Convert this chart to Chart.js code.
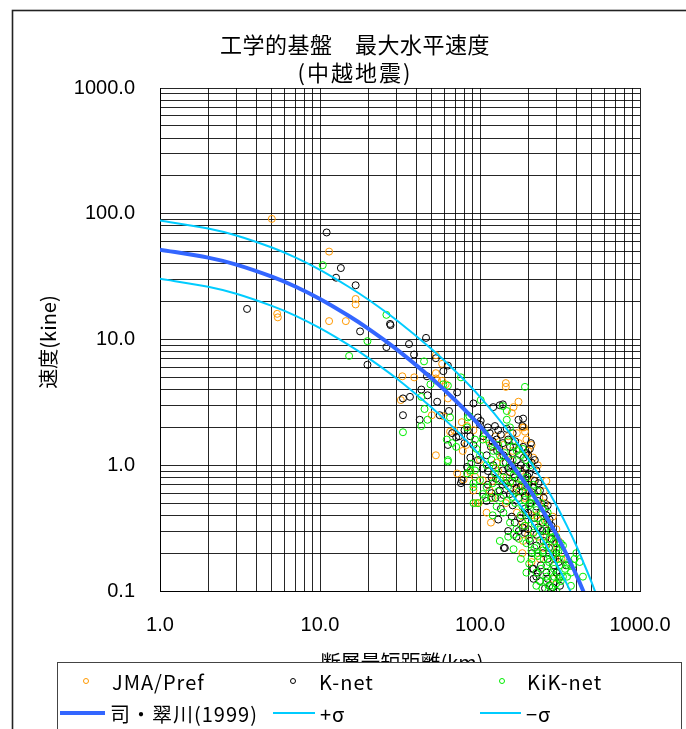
<!DOCTYPE html>
<html>
<head>
<meta charset="utf-8">
<script src="https://cdn.jsdelivr.net/npm/chart.js@4.4.1/dist/chart.umd.min.js"></script>
<style>
  html, body { margin: 0; padding: 0; background: #fff; }
  #wrap { width: 686px; height: 729px; }
</style>
</head>
<body>
<div id="wrap"><canvas id="pgvChart" width="686" height="729"></canvas></div>
<script>
// distance (km) / peak velocity (kine) per network
const jmaDist = [
  5.0, 11.4, 16.7, 16.7, 5.4, 5.45, 11.4, 14.5,
  53, 58, 53, 53, 54, 58, 32.7, 38.8, 61, 63, 32, 50, 59, 77,
  145, 145, 174, 162, 158, 188, 53, 72, 79,
  65, 69, 83, 91, 184, 191, 82, 78, 136, 154, 127,
  87, 93, 104, 91, 98, 115, 147, 169, 216, 191,
  117, 184, 237, 285, 300, 184, 295, 237, 186, 285, 323, 94,
  140, 160, 175, 200, 215, 120, 130, 165, 190, 210, 255, 145, 170, 230, 260, 280, 200, 110, 250, 260,
  125, 150, 170, 195, 210, 110, 100, 120, 155, 180, 205, 235, 190, 225, 270, 250, 210, 310, 120, 230
];
const jmaVel = [
  91, 50, 21, 19, 16, 15, 14, 14,
  7.5, 6.4, 5.4, 4.9, 4.7, 4.7, 5.1, 5.0, 4.4, 3.4, 3.3, 2.5, 2.45, 2.2,
  4.5, 4.2, 3.2, 2.9, 2.6, 2.0, 1.2, 0.86, 0.77,
  1.85, 1.9, 2.05, 1.9, 2.0, 1.85, 1.45, 1.3, 1.15, 1.1, 1.05,
  0.88, 0.81, 0.76, 0.63, 0.5, 0.63, 0.8, 0.71, 0.76, 0.67,
  0.35, 0.35, 0.36, 0.39, 0.31, 0.2, 0.18, 0.18, 0.25, 0.125, 0.18, 0.5,
  1.45, 1.3, 1.5, 1.3, 1.15, 1.4, 0.9, 0.6, 0.55, 0.4, 0.5, 0.5, 0.42, 0.27, 0.27, 0.22, 0.28, 0.42, 0.62, 0.75,
  1.7, 1.7, 1.8, 1.6, 1.45, 1.6, 1.1, 0.75, 0.65, 0.9, 0.6, 0.55, 0.33, 0.4, 0.34, 0.22, 0.17, 0.25, 0.55, 1.0
];

const knetDist = [
  11.0, 13.5, 12.6, 16.7, 3.5, 27.4, 27.6, 17.8, 26, 19.8,
  36, 46, 38.7, 53, 63, 59, 46.6, 43, 47, 72, 64, 36.5, 33, 33, 42, 56, 54,
  91, 121, 133, 139, 174, 186, 208, 76,
  63, 67, 71, 74, 84,
  97, 101, 100, 112, 124, 130, 147, 184,
  80, 87, 80, 91, 117, 127, 139, 154, 166, 186,
  87, 97, 83, 104, 77,
  121, 139, 154, 174, 194, 203, 225,
  133, 154, 169, 191, 211, 237,
  130, 158, 178, 194, 219, 247, 272,
  169, 191, 225, 260, 285, 143, 211, 247,
  216, 237, 265, 285, 316, 345, 216,
  316, 110, 141, 213, 225, 272,
  128, 140, 150, 160, 170, 180, 200, 210,
  150, 165, 185, 200, 220, 145, 175, 205, 230, 255,
  190, 160, 240, 260, 280, 230, 200, 175, 150, 250,
  270, 300, 225, 290, 260, 240, 110, 118, 112, 125, 135,
  105, 115, 135, 150, 160, 175, 195, 205, 220, 120,
  132, 145, 158, 188, 112, 126, 138, 160, 180, 198,
  215, 232, 250, 118, 140, 185, 200, 225, 265, 245,
  280, 300, 205, 185, 165, 310, 265, 230, 255, 300
];
const knetVel = [
  71, 37, 31, 27, 17.5, 13.3, 13, 11.6, 8.7, 6.3,
  9.2, 10.3, 7.6, 7.1, 6.2, 5.6, 5.1, 4.0, 3.6, 3.8, 2.7, 3.5, 3.4, 2.5, 2.3, 2.5, 3.2,
  3.1, 2.9, 3.0, 3.05, 2.3, 2.35, 1.5, 0.72,
  1.45, 1.8, 1.67, 1.7, 1.9,
  2.4, 2.25, 2.1, 2.0, 2.05, 1.9, 1.95, 2.05,
  1.9, 1.7, 1.5, 1.45, 1.4, 1.6, 1.5, 1.4, 1.55, 1.4,
  1.15, 1.1, 0.97, 0.94, 0.76,
  1.0, 0.91, 0.88, 0.94, 0.97, 0.86, 0.91,
  0.63, 0.59, 0.65, 0.57, 0.61, 0.63,
  0.37, 0.39, 0.38, 0.4, 0.38, 0.35, 0.37,
  0.27, 0.29, 0.28, 0.3, 0.29, 0.22, 0.2, 0.2,
  0.15, 0.12, 0.125, 0.107, 0.13, 0.16, 0.125,
  0.11, 0.52, 0.22, 0.15, 0.13, 0.11,
  1.3, 1.2, 1.15, 1.25, 1.1, 1.0, 1.2, 1.05,
  0.95, 0.8, 0.85, 0.7, 0.75, 0.72, 0.55, 0.5, 0.52, 0.45,
  0.45, 0.48, 0.42, 0.4, 0.33, 0.32, 0.31, 0.3, 0.3, 0.25,
  0.22, 0.2, 0.23, 0.16, 0.14, 0.16, 1.2, 0.8, 0.7, 0.55, 0.45,
  1.7, 1.8, 1.75, 1.6, 1.8, 1.35, 1.25, 1.35, 1.1, 1.55,
  1.35, 1.05, 1.0, 1.15, 0.9, 0.78, 0.7, 0.72, 0.68, 0.82,
  0.66, 0.72, 0.55, 0.6, 0.58, 0.62, 0.42, 0.47, 0.48, 0.3,
  0.26, 0.24, 0.25, 0.32, 0.35, 0.17, 0.18, 0.14, 0.105, 0.14
];

const kiknetDist = [
  10.4, 26, 19.8, 15.2, 44.7, 76, 49, 63, 59, 43, 45, 47, 65, 43, 33, 84,
  101, 139, 191, 147, 63, 63, 87,
  62, 67, 71, 86, 83, 147, 154,
  93, 104, 107, 121, 133, 143, 162, 194, 178,
  88, 93, 83, 100, 91, 110,
  124, 133, 162, 184, 194,
  104, 117, 127, 147, 166, 184, 203, 225, 247,
  154, 169, 191, 216, 240, 265, 162, 203, 237, 272, 247, 300, 219,
  133, 162, 203, 225, 260, 280, 316, 345, 400, 370, 300, 272, 237,
  440, 370, 91, 97, 91, 280,
  140, 155, 170, 125, 110, 150, 175, 200, 215, 130,
  120, 140, 230, 255, 280, 300, 320, 260, 285, 305,
  250, 230, 210, 195, 325, 340, 350, 310, 290, 260,
  245, 360, 380, 420, 175, 150, 180, 195,
  115, 130, 150, 170, 185, 205, 160, 118, 100, 95,
  140, 155, 175, 195, 215, 230, 120, 108, 135, 160,
  190, 210, 240, 265, 180, 200, 220, 250, 275, 290,
  310, 330, 230, 270, 210, 240, 270, 290, 330, 300,
  260, 225, 355, 390, 320
];
const kiknetVel = [
  39, 15.7, 9.7, 7.4, 6.7, 5.0, 4.4, 4.3, 4.4, 3.5, 2.8, 2.3, 2.4, 2.05, 1.83, 2.4,
  3.3, 2.95, 4.2, 2.7, 1.1, 1.07, 0.91,
  1.6, 1.5, 1.4, 2.45, 2.0, 2.3, 2.0,
  1.6, 1.6, 1.8, 1.3, 1.2, 1.25, 1.4, 1.1, 1.2,
  1.03, 0.91, 0.86, 0.76, 0.72, 0.67,
  0.86, 0.76, 0.83, 0.76, 0.8,
  0.59, 0.55, 0.47, 0.52, 0.5, 0.47, 0.48, 0.44, 0.45,
  0.35, 0.31, 0.33, 0.29, 0.31, 0.35, 0.28, 0.26, 0.25, 0.26, 0.21, 0.22, 0.22,
  0.25, 0.215, 0.165, 0.14, 0.16, 0.14, 0.16, 0.18, 0.2, 0.14, 0.115, 0.11, 0.12,
  0.13, 0.11, 0.67, 0.5, 0.5, 0.105,
  1.05, 0.95, 0.9, 0.95, 1.0, 0.68, 0.62, 0.6, 0.55, 0.62,
  0.4, 0.42, 0.38, 0.36, 0.3, 0.27, 0.24, 0.23, 0.19, 0.18,
  0.18, 0.19, 0.21, 0.24, 0.2, 0.15, 0.13, 0.125, 0.13, 0.12,
  0.105, 0.17, 0.16, 0.17, 0.26, 0.27, 0.18, 0.14,
  1.5, 1.45, 1.55, 1.3, 1.35, 1.0, 1.1, 1.1, 1.2, 1.35,
  0.8, 0.74, 0.78, 0.68, 0.7, 0.62, 0.72, 0.55, 0.55, 0.56,
  0.53, 0.5, 0.5, 0.42, 0.4, 0.37, 0.34, 0.27, 0.3, 0.25,
  0.21, 0.23, 0.2, 0.2, 0.18, 0.15, 0.17, 0.15, 0.13, 0.1,
  0.13, 0.11, 0.16, 0.18, 0.12
];

// attenuation relation and +/- sigma band
const curveDist = [1, 2, 3, 5, 7, 10, 15, 20, 30, 50, 70, 100, 150, 200, 250, 300, 350, 400, 450, 500, 550];
const siMidorikawa = [51.8, 44.8, 39.4, 31.6, 26.4, 21.0, 15.5, 12.2, 8.39, 4.90, 3.29, 2.05, 1.10, 0.664, 0.424, 0.282, 0.192, 0.134, 0.0946, 0.0678, 0.049];
const plusSigma = [88.4, 76.4, 67.2, 53.9, 45.0, 35.8, 26.4, 20.8, 14.3, 8.36, 5.61, 3.50, 1.88, 1.13, 0.723, 0.481, 0.328, 0.229, 0.161, 0.116, 0.0836];
const minusSigma = [30.4, 26.3, 23.1, 18.5, 15.5, 12.3, 9.09, 7.15, 4.92, 2.87, 1.93, 1.20, 0.645, 0.389, 0.249, 0.165, 0.113, 0.0785, 0.0555, 0.0397, 0.0287];

// labelled decades on each axis
const xDecades = [1, 10, 100, 1000];
const yDecades = [0.1, 1, 10, 100, 1000];

const latin = "'Liberation Sans', Arial, sans-serif";
const cjk = "'Noto Sans CJK JP', 'Liberation Sans', sans-serif";

const toPoints = (xs, ys) => xs.map((x, i) => ({ x: x, y: ys[i] }));

// 1..9 x every decade, so the grid is the usual log paper
function logGrid(decades) {
  const out = [];
  for (let i = 0; i < decades.length - 1; i++) {
    for (let m = 1; m < 10; m++) out.push(m === 1 ? decades[i] : m * decades[i]);
  }
  out.push(decades[decades.length - 1]);
  return out;
}

function scatterSet(label, xs, ys, color, order) {
  return {
    label,
    data: toPoints(xs, ys),
    showLine: false,
    pointStyle: 'circle',
    pointRadius: 3.5,
    pointBorderWidth: 1,
    borderColor: color,
    backgroundColor: 'rgba(0,0,0,0)',
    order
  };
}

function curveSet(label, ys, color, width) {
  return {
    label,
    data: toPoints(curveDist, ys),
    showLine: true,
    pointRadius: 0,
    borderColor: color,
    borderWidth: width,
    backgroundColor: color,
    tension: 0.3,
    order: 0
  };
}

const datasets = [
  scatterSet('JMA/Pref', jmaDist, jmaVel, '#ff9900', 3),
  scatterSet('K-net', knetDist, knetVel, '#000000', 2),
  scatterSet('KiK-net', kiknetDist, kiknetVel, '#00ee00', 1),
  curveSet('司・翠川(1999)', siMidorikawa, '#3366ff', 4),
  curveSet('+σ', plusSigma, '#00ccff', 2),
  curveSet('−σ', minusSigma, '#00ccff', 2)
];

// legend cells: marker/line position and where the text starts
const legendCells = [
  { x: 86, y: 681, textX: 112 },
  { x: 293, y: 681, textX: 319 },
  { x: 502, y: 681, textX: 527 },
  { x: 60, y: 713, w: 45, textX: 110 },
  { x: 273, y: 713, w: 42, textX: 320 },
  { x: 480, y: 713, w: 41, textX: 526 }
];

const chartFrame = {
  id: 'chartFrame',
  beforeDraw(chart) {
    const ctx = chart.ctx;
    ctx.save();
    ctx.fillStyle = '#fff';
    ctx.fillRect(0, 0, chart.width, chart.height);
    ctx.strokeStyle = '#222';
    ctx.lineWidth = 1.6;
    ctx.strokeRect(12.5, 10.5, 700, 760);
    ctx.restore();
  },
  afterDraw(chart) {
    const ctx = chart.ctx;
    ctx.save();
    ctx.fillStyle = '#000';
    ctx.textAlign = 'center';
    ctx.textBaseline = 'middle';

    // title
    ctx.font = '22px ' + cjk;
    ctx.letterSpacing = '0.5px';
    ctx.fillText('工学的基盤　最大水平速度', 355, 45);
    ctx.letterSpacing = '2px';
    ctx.fillText('(中越地震)', 355, 73);
    ctx.letterSpacing = '0px';

    // axis titles
    ctx.font = '20px ' + cjk;
    ctx.fillText('断層最短距離(km)', 402, 662);
    ctx.save();
    ctx.translate(48, 342);
    ctx.rotate(-Math.PI / 2);
    ctx.fillText('速度(kine)', 0, 0);
    ctx.restore();

    // legend box
    ctx.fillStyle = '#fff';
    ctx.fillRect(57, 662, 625, 80);
    ctx.strokeStyle = '#444';
    ctx.lineWidth = 1;
    ctx.strokeRect(57.5, 662.5, 624, 80);

    ctx.textAlign = 'left';
    ctx.font = '20px ' + cjk;
    chart.data.datasets.forEach((ds, i) => {
      const cell = legendCells[i];
      if (ds.showLine) {
        ctx.strokeStyle = ds.borderColor;
        ctx.lineWidth = ds.borderWidth;
        ctx.beginPath();
        ctx.moveTo(cell.x, cell.y);
        ctx.lineTo(cell.x + cell.w, cell.y);
        ctx.stroke();
      } else {
        ctx.strokeStyle = ds.borderColor;
        ctx.lineWidth = 1;
        ctx.beginPath();
        ctx.arc(cell.x, cell.y, 2.5, 0, Math.PI * 2);
        ctx.stroke();
      }
      ctx.fillStyle = '#000';
      ctx.letterSpacing = '1px';
      ctx.fillText(ds.label, cell.textX, cell.y + 1);
      ctx.letterSpacing = '0px';
    });
    ctx.restore();
  }
};

function decadeLabel(decades) {
  return value => (decades.includes(value) ? Number(value).toFixed(1) : '');
}

const gridColor = 'rgba(0,0,0,0.85)';

const config = {
  type: 'scatter',
  data: { datasets },
  options: {
    responsive: false,
    animation: false,
    events: [],
    layout: { padding: { left: 0, right: 46, top: 88, bottom: 0 } },
    plugins: {
      legend: { display: false },
      tooltip: { enabled: false },
      title: { display: false }
    },
    scales: {
      x: {
        type: 'logarithmic',
        min: 1,
        max: 1000,
        afterBuildTicks: scale => { scale.ticks = logGrid(xDecades).map(v => ({ value: v })); },
        afterFit: scale => {
          scale.height = 138;
          // end labels may hang over the edges; keep the plot box fixed
          scale.paddingLeft = 0;
          scale.paddingRight = 0;
        },
        grid: { color: gridColor, lineWidth: 1, drawTicks: false },
        border: { color: '#000', width: 1 },
        ticks: {
          autoSkip: false,
          maxRotation: 0,
          minRotation: 0,
          padding: 22,
          color: '#000',
          font: { family: latin, size: 20 },
          callback: decadeLabel(xDecades)
        }
      },
      y: {
        type: 'logarithmic',
        min: 0.1,
        max: 1000,
        afterBuildTicks: scale => { scale.ticks = logGrid(yDecades).map(v => ({ value: v })); },
        afterFit: scale => { scale.width = 160; },
        grid: { color: gridColor, lineWidth: 1, drawTicks: false },
        border: { color: '#000', width: 1 },
        ticks: {
          autoSkip: false,
          padding: 25,
          color: '#000',
          font: { family: latin, size: 20 },
          callback: decadeLabel(yDecades)
        }
      }
    }
  },
  plugins: [chartFrame]
};

const pgvChart = new Chart(document.getElementById('pgvChart'), config);
</script>
</body>
</html>
